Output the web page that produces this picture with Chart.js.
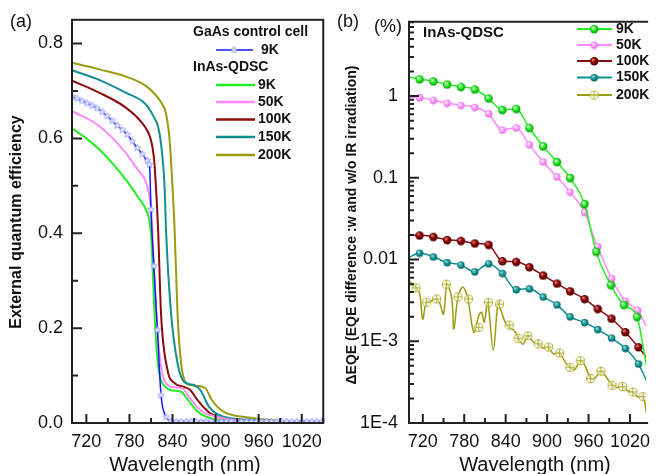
<!DOCTYPE html>
<html>
<head>
<meta charset="utf-8">
<script src="https://cdn.jsdelivr.net/npm/chart.js@4.4.0/dist/chart.umd.min.js"></script>
<style>
  html, body { margin: 0; padding: 0; background: #fff; overflow: hidden; }
  #wrapA { position: absolute; left: 0; top: 0; width: 330px; height: 474px; }
  #wrapB { position: absolute; left: 330px; top: 0; width: 328px; height: 474px; }
</style>
</head>
<body>
<div id="wrapA"><canvas id="chartA" width="330" height="474"></canvas></div>
<div id="wrapB"><canvas id="chartB" width="328" height="474"></canvas></div>
<script>
// ---------- panel (a): EQE vs wavelength ----------
const gaasWl = [700, 707, 714, 721, 728, 735, 742, 749, 756, 763, 770, 777, 784, 791, 798, 805, 808, 810, 814, 819, 824, 831, 838, 845, 852, 859, 866, 873, 880, 887, 894, 901, 908, 915, 922, 929, 936, 943, 950, 957, 964, 971, 978, 985, 992, 999, 1006, 1013, 1020, 1027, 1034, 1041, 1048];
const gaas9K = [0.688, 0.684, 0.679, 0.674, 0.669, 0.664, 0.656, 0.647, 0.637, 0.627, 0.618, 0.608, 0.594, 0.580, 0.567, 0.553, 0.545, 0.45, 0.331, 0.196, 0.059, 0.013, 0.004, 0.003, 0.003, 0.003, 0.003, 0.003, 0.003, 0.003, 0.003, 0.003, 0.003, 0.003, 0.003, 0.003, 0.003, 0.003, 0.003, 0.003, 0.003, 0.003, 0.003, 0.003, 0.003, 0.003, 0.003, 0.003, 0.003, 0.003, 0.003, 0.003, 0.003];

const qd9Wl = [701, 720, 737, 756, 774, 792, 803, 808, 811, 813, 817, 820, 824, 831, 838, 852, 861, 875, 893, 929, 980, 1050];
const qd9K = [0.620, 0.600, 0.578, 0.548, 0.515, 0.476, 0.450, 0.425, 0.38, 0.30, 0.175, 0.12, 0.090, 0.075, 0.069, 0.066, 0.050, 0.024, 0.010, 0.003, 0.001, 0.0005];
const qd50Wl = [701, 737, 774, 792, 802, 806, 810, 812, 815, 820, 827, 840, 854, 863, 879, 902, 948, 1050];
const qd50K = [0.657, 0.627, 0.571, 0.533, 0.512, 0.491, 0.455, 0.399, 0.301, 0.175, 0.0975, 0.076, 0.073, 0.055, 0.027, 0.013, 0.003, 0.0005];
const qd100Wl = [701, 737, 774, 797, 806, 810, 814, 817, 820, 824, 833, 843, 856, 865, 875, 893, 929, 1050];
const qd100K = [0.721, 0.697, 0.666, 0.634, 0.613, 0.596, 0.561, 0.497, 0.406, 0.231, 0.112, 0.084, 0.076, 0.069, 0.048, 0.020, 0.006, 0.0006];
const qd150Wl = [701, 737, 774, 802, 813, 820, 824, 829, 831, 838, 847, 856, 870, 879, 891, 911, 966, 1048];
const qd150K = [0.743, 0.724, 0.697, 0.673, 0.648, 0.624, 0.589, 0.497, 0.406, 0.231, 0.126, 0.087, 0.080, 0.069, 0.034, 0.013, 0.005, 0.0015];
const qd200Wl = [701, 737, 783, 806, 824, 831, 836, 840, 843, 847, 852, 859, 875, 886, 895, 911, 943, 989, 1048];
const qd200K = [0.759, 0.746, 0.726, 0.707, 0.676, 0.652, 0.596, 0.497, 0.406, 0.231, 0.126, 0.084, 0.078, 0.073, 0.048, 0.024, 0.012, 0.005, 0.002];

const xTicks = [720, 780, 840, 900, 960, 1020];
const xMinor = [750, 810, 870, 930, 990, 1050];
const yTicksA = [0, 0.2, 0.4, 0.6, 0.8];
const yMinorA = [0.1, 0.3, 0.5, 0.7];

// ---------- panel (b): delta EQE (log) ----------
const b9Wl = [700, 715, 735, 755, 775, 795, 815, 835, 855, 874, 894, 914, 933, 954, 971, 992, 1011, 1030, 1044];
const b9K = [1.71, 1.61, 1.52, 1.39, 1.30, 1.21, 0.94, 0.68, 0.70, 0.41, 0.244, 0.157, 0.100, 0.048, 0.0125, 0.0049, 0.0028, 0.0020, 0.0005];
const b50Wl = [700, 715, 735, 755, 775, 795, 815, 835, 855, 874, 894, 914, 933, 954, 973, 993, 1013, 1031, 1044];
const b50K = [0.97, 0.96, 0.89, 0.82, 0.77, 0.73, 0.61, 0.385, 0.41, 0.255, 0.157, 0.103, 0.067, 0.038, 0.0144, 0.0059, 0.0031, 0.0024, 0.0015];
const b100Wl = [700, 715, 735, 755, 775, 795, 815, 835, 855, 874, 894, 914, 933, 954, 973, 993, 1013, 1032, 1044];
const b100K = [0.0198, 0.0198, 0.019, 0.0174, 0.017, 0.0158, 0.0152, 0.0096, 0.0094, 0.0081, 0.0064, 0.0051, 0.0041, 0.0033, 0.0025, 0.0019, 0.0013, 0.00085, 0.00063];
const b150Wl = [700, 715, 735, 755, 775, 795, 815, 835, 855, 874, 894, 914, 933, 954, 973, 993, 1013, 1032, 1044];
const b150K = [0.0106, 0.012, 0.0108, 0.0092, 0.0086, 0.0071, 0.0089, 0.0068, 0.0043, 0.0044, 0.0035, 0.0028, 0.0020, 0.0017, 0.0014, 0.0011, 0.00082, 0.00053, 0.00033];
const b200MarkWl = [710, 725, 740, 754, 771, 786, 801, 815, 831, 845, 858, 872, 887, 902, 918, 933, 948, 963, 978, 994, 1009, 1024, 1039];
const b200Mark = [0.0045, 0.0030, 0.0033, 0.0050, 0.0035, 0.0033, 0.00148, 0.0030, 0.00285, 0.00158, 0.00109, 0.00117, 0.00093, 0.00085, 0.00072, 0.00048, 0.00058, 0.00035, 0.00043, 0.00029, 0.00028, 0.00024, 0.00021];
const b200LineWl = [700, 709, 715, 720, 725, 732, 739, 744, 750, 755, 762, 765, 771, 778, 785, 794, 801, 805, 809, 814, 822, 829, 833, 842, 852, 858, 865, 872, 880, 887, 895, 902, 909, 918, 926, 933, 940, 948, 955, 963, 970, 978, 986, 994, 1002, 1009, 1016, 1024, 1031, 1039, 1044];
const b200K = [0.0055, 0.0046, 0.0040, 0.00187, 0.0030, 0.0031, 0.0033, 0.0030, 0.00215, 0.0050, 0.0033, 0.00141, 0.0035, 0.0046, 0.0033, 0.00129, 0.00206, 0.00226, 0.0017, 0.0030, 0.00078, 0.0030, 0.0024, 0.00155, 0.00136, 0.00109, 0.00092, 0.00117, 0.00098, 0.00093, 0.00082, 0.00085, 0.00070, 0.00072, 0.00056, 0.00048, 0.00045, 0.00058, 0.00050, 0.00035, 0.00036, 0.00043, 0.00036, 0.00029, 0.00027, 0.00028, 0.00025, 0.00024, 0.00021, 0.00021, 0.000129];

const yTickValsB = [1e-4, 1e-3, 1e-2, 0.1, 1];
const yTickLabelsB = ['1E-4', '1E-3', '0.01', '0.1', '1'];

const FONT = '"Liberation Sans", Arial, sans-serif';
const GREEN = '#22ee22', PINK = '#ff88ff', RED = '#8b0a0a', TEAL = '#118f8f', OLIVE = '#9b9b10', BLUE = '#1515ff';

const pts = (wl, v) => wl.map((x, i) => ({ x, y: v[i] }));

// marker sprites
function sprite(size, draw) {
  const c = document.createElement('canvas');
  c.width = c.height = size;
  draw(c.getContext('2d'), size / 2);
  return c;
}
const ball = (r, light, base, dark) => sprite(2 * r + 2, (g, m) => {
  const grad = g.createRadialGradient(m - r * 0.35, m - r * 0.4, r * 0.1, m, m, r);
  grad.addColorStop(0, light);
  grad.addColorStop(0.5, base);
  grad.addColorStop(1, dark);
  g.fillStyle = grad;
  g.beginPath(); g.arc(m, m, r, 0, Math.PI * 2); g.fill();
});
const circlePlus = (r, color) => sprite(2 * r + 2, (g, m) => {
  g.strokeStyle = color; g.lineWidth = 1;
  g.fillStyle = 'rgba(255,255,255,0.55)';
  g.beginPath(); g.arc(m, m, r - 0.5, 0, Math.PI * 2); g.fill(); g.stroke();
  g.beginPath();
  g.moveTo(m - r + 0.5, m); g.lineTo(m + r - 0.5, m);
  g.moveTo(m, m - r + 0.5); g.lineTo(m, m + r - 0.5);
  g.stroke();
});
const star = (r, fill, stroke) => sprite(Math.ceil(2 * r + 3), (g, m) => {
  g.beginPath();
  for (let i = 0; i < 10; i++) {
    const rr = i % 2 ? r * 0.45 : r;
    const a = -Math.PI / 2 + i * Math.PI / 5;
    g.lineTo(m + rr * Math.cos(a), m + rr * Math.sin(a));
  }
  g.closePath();
  g.fillStyle = fill; g.fill();
  g.strokeStyle = stroke; g.lineWidth = 0.8; g.stroke();
});

const starImg = star(3.6, '#e4e8ff', '#8f9cff');
const ballGreen = ball(4.2, '#f0fff0', '#22ee22', '#00a000');
const ballPink = ball(3.7, '#ffffff', '#ff99ff', '#e070e0');
const ballRed = ball(4.2, '#e08080', '#8b0000', '#4a0000');
const ballTeal = ball(3.7, '#9fe0e0', '#139a9a', '#005f5f');
const plusOlive = circlePlus(4.6, '#b0b030');

function drawTicks(ctx, scale, vals, len, horizontal, a) {
  ctx.beginPath();
  vals.forEach(v => {
    const p = scale.getPixelForValue(v);
    if (horizontal) {
      if (p < a.left || p > a.right) return;
      ctx.moveTo(p, a.bottom); ctx.lineTo(p, a.bottom - len);
    } else {
      if (p < a.top || p > a.bottom) return;
      ctx.moveTo(a.left, p); ctx.lineTo(a.left + len, p);
    }
  });
  ctx.stroke();
}

function text(ctx, str, x, y, size, bold, align, rot) {
  ctx.save();
  ctx.translate(x, y);
  if (rot) ctx.rotate(rot);
  ctx.font = (bold ? 'bold ' : '') + size + 'px ' + FONT;
  ctx.fillStyle = '#111';
  ctx.textAlign = align || 'left';
  ctx.textBaseline = 'middle';
  ctx.fillText(str, 0, 0);
  ctx.restore();
}

const decorA = {
  id: 'decorA',
  afterDraw(chart) {
    const { ctx, chartArea: a, scales: { x, y } } = chart;
    ctx.save();
    ctx.strokeStyle = '#222';
    ctx.lineWidth = 2;
    ctx.strokeRect(a.left, a.top, a.right - a.left, a.bottom - a.top);
    drawTicks(ctx, x, xTicks, 9, true, a);
    drawTicks(ctx, x, xMinor, 5, true, a);
    drawTicks(ctx, y, yTicksA, 10, false, a);
    drawTicks(ctx, y, yMinorA, 6, false, a);

    text(ctx, '(a)', 10, 22, 18, false);
    text(ctx, 'Wavelength (nm)', 185, 465, 20, false, 'center');
    text(ctx, 'External quantum efficiency', 17, 222, 16, true, 'center', -Math.PI / 2);

    // legend
    text(ctx, 'GaAs control cell', 193, 32, 14, true);
    ctx.strokeStyle = BLUE; ctx.lineWidth = 1.5;
    ctx.beginPath(); ctx.moveTo(216, 50); ctx.lineTo(253, 50); ctx.stroke();
    ctx.drawImage(starImg, 234 - starImg.width / 2, 50 - starImg.height / 2);
    text(ctx, '9K', 261, 50, 14, true);
    text(ctx, 'InAs-QDSC', 193, 67, 14, true);
    const rows = [['9K', GREEN, 85], ['50K', PINK, 102], ['100K', RED, 119.5], ['150K', TEAL, 137], ['200K', OLIVE, 155]];
    rows.forEach(([lab, col, yy]) => {
      ctx.strokeStyle = col; ctx.lineWidth = 2.5;
      ctx.beginPath(); ctx.moveTo(216, yy); ctx.lineTo(255, yy); ctx.stroke();
      text(ctx, lab, 258, yy, 14, true);
    });
    ctx.restore();
  }
};

const decorB = {
  id: 'decorB',
  afterDraw(chart) {
    const { ctx, chartArea: a, scales: { x, y } } = chart;
    ctx.save();
    ctx.strokeStyle = '#222';
    ctx.lineWidth = 2;
    ctx.beginPath();
    ctx.moveTo(a.right + 2, a.top); ctx.lineTo(a.left, a.top);
    ctx.lineTo(a.left, a.bottom); ctx.lineTo(a.right + 2, a.bottom);
    ctx.stroke();
    const minors = [];
    yTickValsB.forEach(d => { for (let k = 2; k <= 9; k++) if (k * d < y.max) minors.push(k * d); });
    drawTicks(ctx, x, xTicks, 9, true, a);
    drawTicks(ctx, x, xMinor, 5, true, a);
    drawTicks(ctx, y, yTickValsB, 10, false, a);
    drawTicks(ctx, y, minors, 5, false, a);

    text(ctx, '(b)', 7, 22, 18, false);
    text(ctx, '(%)', 44, 27, 18, false);
    text(ctx, 'InAs-QDSC', 93, 33, 15, true);
    text(ctx, 'Wavelength (nm)', 205, 465, 20, false, 'center');
    text(ctx, '\u0394EQE (EQE difference :w and w/o IR irradiation)', 22, 225, 14, true, 'center', -Math.PI / 2);

    const rows = [['9K', GREEN, ballGreen, 29], ['50K', PINK, ballPink, 45], ['100K', RED, ballRed, 61],
                  ['150K', TEAL, ballTeal, 77.5], ['200K', OLIVE, plusOlive, 95]];
    rows.forEach(([lab, col, img, yy]) => {
      ctx.strokeStyle = col; ctx.lineWidth = 1.8;
      ctx.beginPath(); ctx.moveTo(247, yy); ctx.lineTo(282, yy); ctx.stroke();
      ctx.drawImage(img, 264 - img.width / 2, yy - img.height / 2);
      text(ctx, lab, 286, yy, 14, true);
    });
    ctx.restore();
  }
};

const tickFont = { family: FONT, size: 18 };

function xScale(max) {
  return {
    type: 'linear', min: 700, max,
    grid: { display: false, drawTicks: false }, border: { display: false },
    afterBuildTicks: s => { s.ticks = xTicks.map(v => ({ value: v })); },
    afterFit: s => { s.height = 51; },
    ticks: { font: tickFont, color: '#111', padding: 8, maxRotation: 0, autoSkip: false, callback: v => String(v) }
  };
}

const lineA = (label, wl, v, color) => ({
  label, data: pts(wl, v), borderColor: color, backgroundColor: color,
  borderWidth: 2, pointRadius: 0, fill: false, cubicInterpolationMode: 'monotone'
});

new Chart(document.getElementById('chartA'), {
  type: 'line',
  data: {
    datasets: [
      {
        label: 'GaAs 9K', data: pts(gaasWl, gaas9K), borderColor: BLUE, borderWidth: 1.5,
        pointStyle: starImg, pointRadius: 3, fill: false, cubicInterpolationMode: 'monotone'
      },
      lineA('9K', qd9Wl, qd9K, GREEN),
      lineA('50K', qd50Wl, qd50K, PINK),
      lineA('100K', qd100Wl, qd100K, RED),
      lineA('150K', qd150Wl, qd150K, TEAL),
      lineA('200K', qd200Wl, qd200K, OLIVE)
    ]
  },
  options: {
    responsive: false,
    animation: false,
    layout: { autoPadding: false, padding: { top: 18, right: 3, left: 0, bottom: 0 } },
    plugins: { legend: { display: false }, tooltip: { enabled: false } },
    scales: {
      x: xScale(1050),
      y: {
        type: 'linear', min: 0, max: 0.85,
        grid: { display: false, drawTicks: false }, border: { display: false },
        afterBuildTicks: s => { s.ticks = yTicksA.map(v => ({ value: v })); },
        afterFit: s => { s.width = 72; },
        ticks: { font: tickFont, color: '#111', padding: 9, callback: v => v.toFixed(1) }
      }
    }
  },
  plugins: [decorA]
});

const lineB = (label, wl, v, color, img) => ({
  label, data: pts(wl, v), borderColor: color, backgroundColor: color,
  borderWidth: 1.5, fill: false, cubicInterpolationMode: 'monotone',
  pointStyle: img,
  pointRadius: c => (c.dataIndex === 0 || c.dataIndex === wl.length - 1) ? 0 : 4
});

new Chart(document.getElementById('chartB'), {
  type: 'line',
  data: {
    datasets: [
      lineB('9K', b9Wl, b9K, GREEN, ballGreen),
      lineB('50K', b50Wl, b50K, PINK, ballPink),
      lineB('100K', b100Wl, b100K, RED, ballRed),
      lineB('150K', b150Wl, b150K, TEAL, ballTeal),
      {
        label: '200K marks', data: pts(b200MarkWl, b200Mark), showLine: false,
        pointStyle: plusOlive, pointRadius: 4.5, borderColor: OLIVE
      },
      {
        label: '200K', data: pts(b200LineWl, b200K), borderColor: OLIVE, borderWidth: 1.5,
        pointRadius: 0, fill: false, tension: 0.35
      }
    ]
  },
  options: {
    responsive: false,
    animation: false,
    layout: { autoPadding: false, padding: { top: 18, right: 0, left: 0, bottom: 0 } },
    plugins: { legend: { display: false }, tooltip: { enabled: false } },
    scales: {
      x: xScale(1043.4),
      y: {
        type: 'logarithmic', min: 1e-4, max: 8.1,
        grid: { display: false, drawTicks: false }, border: { display: false },
        afterBuildTicks: s => { s.ticks = yTickValsB.map(v => ({ value: v })); },
        afterFit: s => { s.width = 79; },
        ticks: { font: tickFont, color: '#111', padding: 11, callback: (v, i) => yTickLabelsB[i] }
      }
    }
  },
  plugins: [decorB]
});
</script>
</body>
</html>
